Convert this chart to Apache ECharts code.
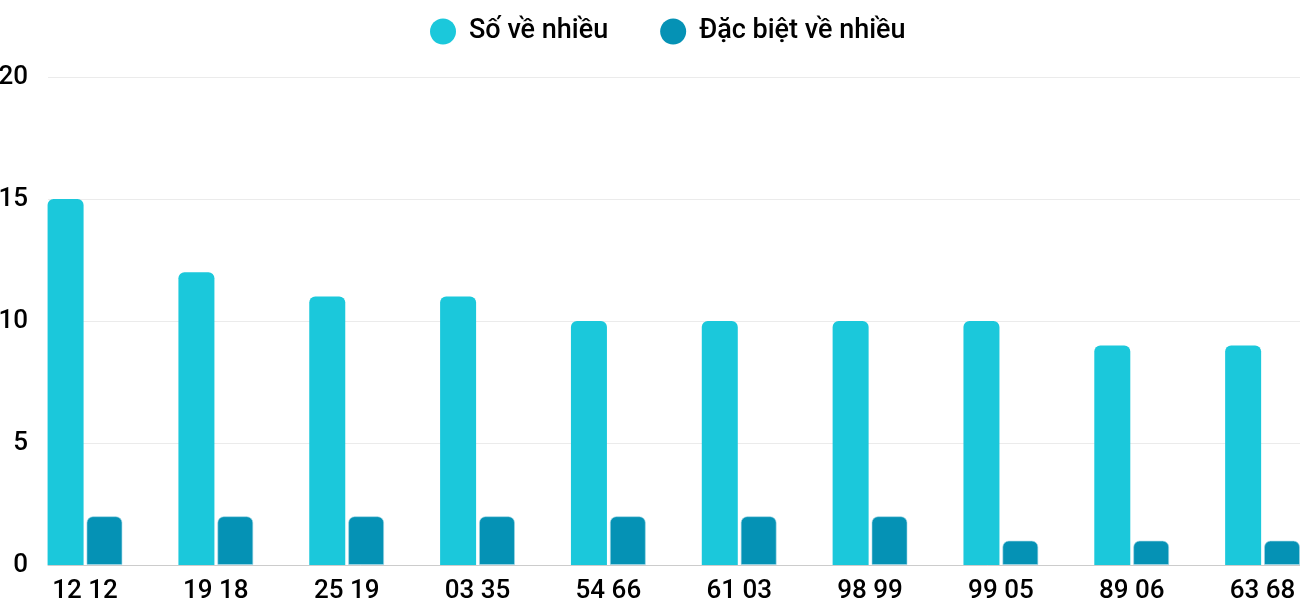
<!DOCTYPE html>
<html>
<head>
<meta charset="utf-8">
<script src="https://cdn.jsdelivr.net/npm/echarts@6/dist/echarts.min.js"></script>
<style>html,body{margin:0;padding:0;background:#fff}#c{width:1300px;height:600px}</style>
</head>
<body>
<div id="c"></div>
<script>
var categories = ["12 12", "19 18", "25 19", "03 35", "54 66", "61 03", "98 99", "99 05", "89 06", "63 68"];
var soVeNhieu = [15, 12, 11, 11, 10, 10, 10, 10, 9, 9];
var dacBietVeNhieu = [2, 2, 2, 2, 2, 2, 2, 1, 1, 1];
var seriesNames = ["Số về nhiều", "Đặc biệt về nhiều"];
var yTicks = { min: 0, max: 20, interval: 5 };

var font = 'Roboto, "Noto Sans", sans-serif';
var chart = echarts.init(document.getElementById('c'), null, { renderer: 'canvas' });
chart.setOption({
  animation: false,
  textStyle: { fontFamily: font },
  legend: {
    top: 13, left: 425,
    icon: 'circle', itemWidth: 26, itemHeight: 26, itemGap: 52,
    itemStyle: { borderWidth: 0 },
    textStyle: { fontSize: 27, fontWeight: 500, color: '#000', fontFamily: font, padding: [0, 0, 0, 8] },
    data: seriesNames
  },
  grid: [
    { left: 48, right: 0, top: 77, bottom: 35, containLabel: false, outerBoundsMode: 'none' },
    { left: 19.6, width: 1308.4, top: 77, bottom: 35, containLabel: false, outerBoundsMode: 'none' }
  ],
  xAxis: [
    { type: 'category', gridIndex: 0, data: categories,
      axisLine: { show: true, lineStyle: { color: '#cccccc', width: 1 } },
      axisTick: { show: false }, axisLabel: { show: false }, splitLine: { show: false } },
    { type: 'category', gridIndex: 1, data: categories,
      axisLine: { show: false }, axisTick: { show: false },
      axisLabel: { show: true, fontSize: 26, fontWeight: 500, color: '#000', margin: 13, fontFamily: font, interval: 0 } }
  ],
  yAxis: [
    { type: 'value', gridIndex: 0, min: yTicks.min, max: yTicks.max, interval: yTicks.interval,
      axisLine: { show: false }, axisTick: { show: false },
      axisLabel: { fontSize: 26, fontWeight: 500, color: '#000', margin: 20, fontFamily: font },
      splitLine: { show: true, lineStyle: { color: '#ebebeb', width: 1 } } },
    { type: 'value', gridIndex: 1, min: yTicks.min, max: yTicks.max, interval: yTicks.interval,
      show: false, splitLine: { show: false } }
  ],
  series: [
    { name: seriesNames[0], type: 'bar', xAxisIndex: 1, yAxisIndex: 1, data: soVeNhieu,
      barWidth: 36, barGap: '8%',
      itemStyle: { color: '#1bc8db', borderRadius: [6, 6, 0, 0] } },
    { name: seriesNames[1], type: 'bar', xAxisIndex: 1, yAxisIndex: 1, data: dacBietVeNhieu,
      barWidth: 36, barGap: '8%',
      itemStyle: { color: '#0592b5', borderRadius: [6, 6, 0, 0], borderColor: 'rgba(160,215,230,0.6)', borderWidth: 1 } }
  ]
});
</script>
</body>
</html>
